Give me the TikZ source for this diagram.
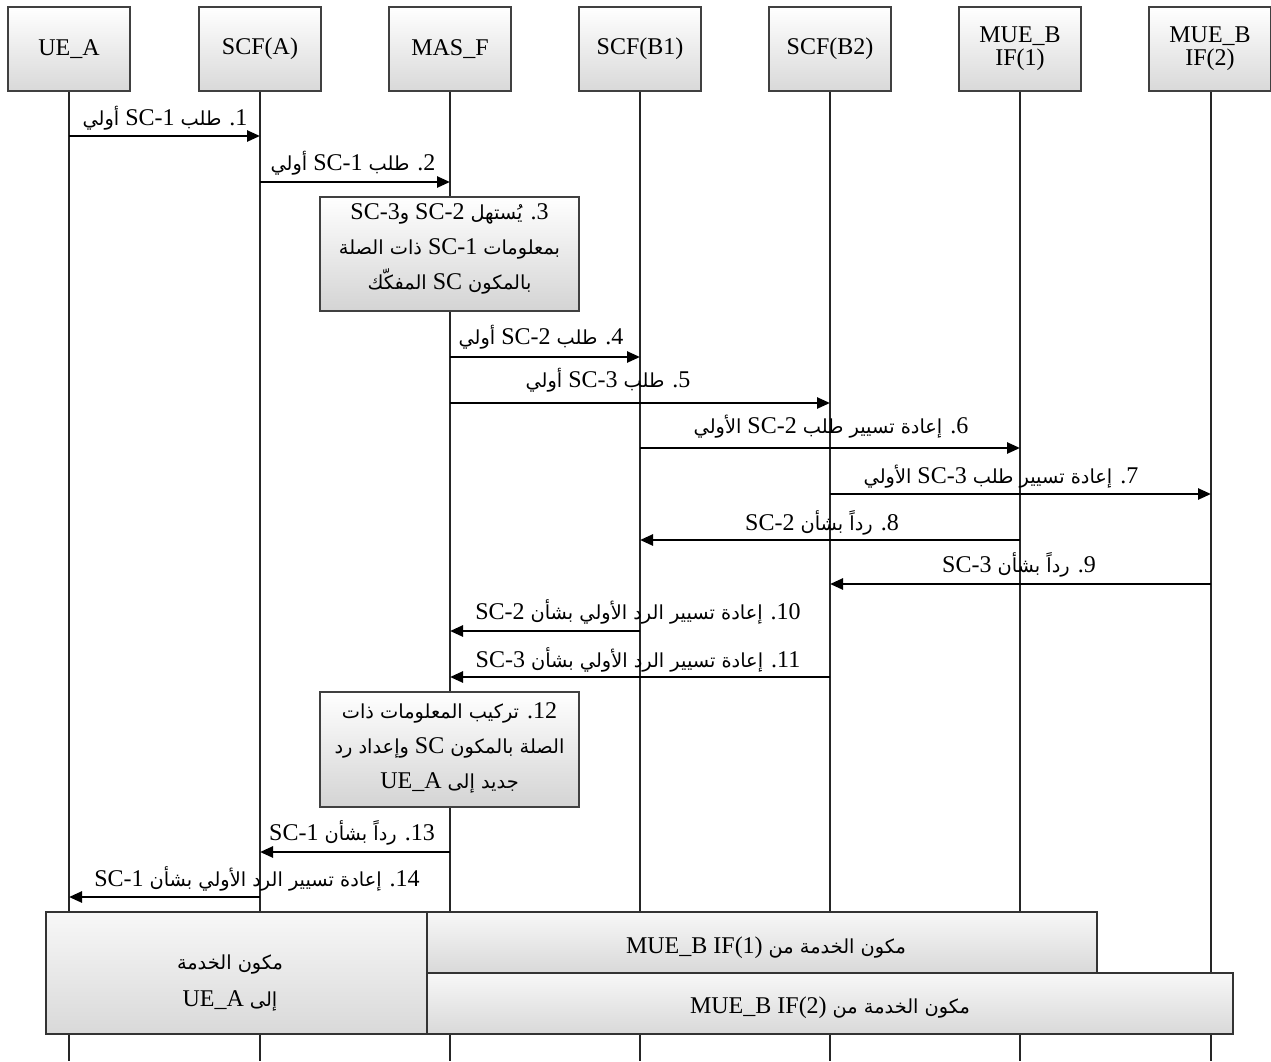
\documentclass[tikz,border=0pt]{standalone}
\usepackage{fontspec}
\setmainfont{Liberation Serif}
\newfontfamily\arabicfont[Script=Arabic]{DejaVu Sans}
\TeXXeTstate=1
\usetikzlibrary{arrows.meta}

% Arabic run, Latin run inside right-to-left text, whole right-to-left line
\newcommand\ar[1]{{\arabicfont\fontsize{14.5}{17}\selectfont #1}}
\newcommand\lat[1]{\beginL #1\endL{}}
\newcommand\rtl[1]{\beginR #1\endR}
% step number written before the Arabic text
\newcommand\stepno[1]{#1\kern0pt.}

\begin{document}
\begin{tikzpicture}[x=0.75pt,y=-0.75pt,
  hdr/.style={draw=black!75, line width=1pt, top color=white, bottom color=black!15,
    minimum width=122*0.75pt, minimum height=84*0.75pt, inner sep=0pt, align=center,
    font=\fontsize{18}{17.5}\selectfont},
  life/.style={draw=black!85, line width=1pt},
  msg/.style={draw=black, line width=1.9pt, -{Triangle[length=9.75pt,width=8.25pt]}},
  lbl/.style={inner sep=0pt, font=\fontsize{18}{22}\selectfont},
  note/.style={draw=black!75, line width=1pt, top color=white, bottom color=black!17,
    inner sep=0pt, align=center, minimum width=259*0.75pt},
  ntext/.style={inner sep=0pt, align=center, font=\fontsize{18}{26}\selectfont},
  panel/.style={draw=black!80, line width=1pt, top color=white!97!black, bottom color=black!15,
    inner sep=0pt},
  ptext/.style={inner sep=0pt, align=center, font=\fontsize{18}{28}\selectfont},
]
\useasboundingbox (0,0) rectangle (1271,1061);
\coordinate (bot) at (0,1061);

% lifelines
\foreach \x/\n in {69/ua,260/sa,450/mf,640/sb1,830/sb2,1020/mb1,1211/mb2}
  \coordinate (\n-x) at (\x,91);
\foreach \n in {ua,sa,mf,sb1,sb2,mb1,mb2}
  \draw[life] (\n-x) -- (\n-x |- bot);

% participants
\node[hdr] (ua)  at (69,49)   {UE\_A};
\node[hdr] (sa)  at (260,49)  {SCF(A)};
\node[hdr] (mf)  at (450,49)  {MAS\_F};
\node[hdr] (sb1) at (640,49)  {SCF(B1)};
\node[hdr] (sb2) at (830,49)  {SCF(B2)};
\node[hdr] (mb1) at (1020,49) {MUE\_B\\IF(1)};
\node[hdr] (mb2) at (1210,49) {MUE\_B\\IF(2)};

% message levels
\foreach \i/\y in {1/136,2/182,4/357,5/403,6/448,7/494,8/540,9/584,10/631,11/677,13/852,14/897}
  \coordinate (y\i) at (0,\y);

% messages
\draw[msg] (ua-x |- y1)  -- (sa-x |- y1);
\draw[msg] (sa-x |- y2)  -- (mf-x |- y2);
\draw[msg] (mf-x |- y4)  -- (sb1-x |- y4);
\draw[msg] (mf-x |- y5)  -- (sb2-x |- y5);
\draw[msg] (sb1-x |- y6) -- (mb1-x |- y6);
\draw[msg] (sb2-x |- y7) -- (mb2-x |- y7);
\draw[msg] (mb1-x |- y8) -- (sb1-x |- y8);
\draw[msg] (mb2-x |- y9) -- (sb2-x |- y9);
\draw[msg] (sb1-x |- y10) -- (mf-x |- y10);
\draw[msg] (sb2-x |- y11) -- (mf-x |- y11);
\draw[msg] (mf-x |- y13) -- (sa-x |- y13);
\draw[msg] (sa-x |- y14) -- (ua-x |- y14);

% message labels
\node[lbl] (t1)  at (165,118)  {\rtl{\stepno{1} \ar{طلب} \lat{SC-1} \ar{أولي}}};
\node[lbl] (t2)  at (353,163)  {\rtl{\stepno{2} \ar{طلب} \lat{SC-1} \ar{أولي}}};
\node[lbl] (t4)  at (541,337)  {\rtl{\stepno{4} \ar{طلب} \lat{SC-2} \ar{أولي}}};
\node[lbl] (t5)  at (608,380)  {\rtl{\stepno{5} \ar{طلب} \lat{SC-3} \ar{أولي}}};
\node[lbl] (t6)  at (831,427)  {\rtl{\stepno{6} \ar{إعادة تسيير طلب} \lat{SC-2} \ar{الأولي}}};
\node[lbl] (t7)  at (1001,477) {\rtl{\stepno{7} \ar{إعادة تسيير طلب} \lat{SC-3} \ar{الأولي}}};
\node[lbl] (t8)  at (822,523)  {\rtl{\stepno{8} \ar{رداً بشأن} \lat{SC-2}}};
\node[lbl] (t9)  at (1019,565) {\rtl{\stepno{9} \ar{رداً بشأن} \lat{SC-3}}};
\node[lbl] (t10) at (638,612)  {\rtl{\stepno{10} \ar{إعادة تسيير الرد الأولي بشأن} \lat{SC-2}}};
\node[lbl] (t11) at (638,660)  {\rtl{\stepno{11} \ar{إعادة تسيير الرد الأولي بشأن} \lat{SC-3}}};
\node[lbl] (t13) at (352,833)  {\rtl{\stepno{13} \ar{رداً بشأن} \lat{SC-1}}};
\node[lbl] (t14) at (257,879)  {\rtl{\stepno{14} \ar{إعادة تسيير الرد الأولي بشأن} \lat{SC-1}}};

% local actions of MAS_F
\node[note, minimum height=114*0.75pt] (n3) at (449.5,254) {};
\node[ntext] (n3-t) at (449.5,249)
  {\rtl{\stepno{3} \ar{يُستهل} \lat{SC-2} \ar{و}\lat{SC-3}}\\
   \rtl{\ar{بمعلومات} \lat{SC-1} \ar{ذات الصلة}}\\
   \rtl{\ar{بالمكون} \lat{SC} \ar{المفكّك}}};
\node[note, minimum height=115*0.75pt] (n12) at (449.5,749.5) {};
\node[ntext] (n12-t) at (449.5,748)
  {\rtl{\stepno{12} \ar{تركيب المعلومات ذات}}\\
   \rtl{\ar{الصلة بالمكون} \lat{SC} \ar{وإعداد رد}}\\
   \rtl{\ar{جديد إلى} \lat{UE\_A}}};

% service components
\node[panel, minimum width=381*0.75pt, minimum height=122*0.75pt] (pa) at (236.5,973) {};
\node[panel, minimum width=670*0.75pt, minimum height=61*0.75pt] (pb1) at (762,942.5) {};
\node[panel, minimum width=806*0.75pt, minimum height=61*0.75pt] (pb2) at (830,1003.5) {};
\node[ptext] (pa-t) at (230,983)
  {\rtl{\ar{مكون الخدمة}}\\ \rtl{\ar{إلى} \lat{UE\_A}}};
\node[ptext] (pb1-t) at (766,948)
  {\rtl{\ar{مكون الخدمة من} \lat{MUE\_B IF(1)}}};
\node[ptext] (pb2-t) at (830,1008)
  {\rtl{\ar{مكون الخدمة من} \lat{MUE\_B IF(2)}}};
\end{tikzpicture}
\end{document}
